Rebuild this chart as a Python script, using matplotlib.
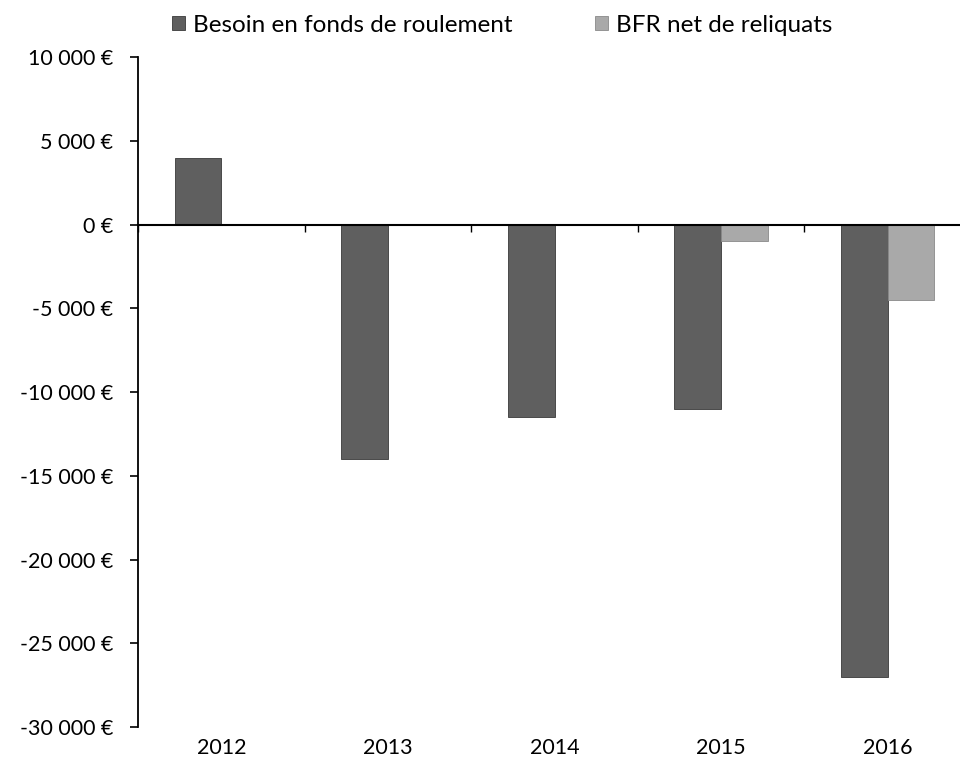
#!/usr/bin/env python3
"""
BFR bar chart (2012-2016), grey Excel-style look
"""

import numpy as np
import matplotlib
matplotlib.use('Agg')
import matplotlib.pyplot as plt
from matplotlib.ticker import FuncFormatter

years = ['2012', '2013', '2014', '2015', '2016']
bfr = [4000, -14000, -11500, -11000, -27000]
bfr_net = [0, 0, 0, -1000, -4500]
series_names = ['Besoin en fonds de roulement', 'BFR net de reliquats']
y_ticks = [10000, 5000, 0, -5000, -10000, -15000, -20000, -25000, -30000]


def euro(v, pos=None):
    s = f"{abs(int(v)):,}".replace(',', ' ')
    sign = '-' if v < 0 else ''
    return f"{sign}{s} €"


def main():
    plt.rcParams['font.family'] = ['Lato', 'DejaVu Sans']

    fig = plt.figure(figsize=(9.6, 7.77), dpi=100)
    fig.patch.set_facecolor('white')
    ax = fig.add_axes([138 / 960, 1 - 727 / 777, 833 / 960, 670 / 777])

    x = np.arange(len(years))
    w = 0.28
    b1 = ax.bar(x - w / 2, bfr, width=w, color='#5f5f5f', edgecolor='#3a3a3a',
                linewidth=0.6, label=series_names[0], zorder=2)
    b2 = ax.bar(x + w / 2, bfr_net, width=w, color='#a9a9a9', edgecolor='#8a8a8a',
                linewidth=0.6, label=series_names[1], zorder=2)

    ax.set_xlim(-0.5, len(years) - 0.5)
    ax.set_ylim(-30000, 10000)
    ax.set_yticks(y_ticks)
    ax.yaxis.set_major_formatter(FuncFormatter(euro))
    ax.tick_params(axis='y', direction='out', length=6, width=1.2, pad=12,
                   labelsize=15.5, colors='black')

    # category axis drawn at zero, boundary ticks
    ax.spines['bottom'].set_position(('data', 0))
    ax.spines['bottom'].set_linewidth(1.5)
    ax.spines['left'].set_linewidth(1.3)
    ax.spines['top'].set_visible(False)
    ax.spines['right'].set_visible(False)
    ax.set_xticks(np.arange(len(years) + 1) - 0.5)
    ax.set_xticklabels([])
    ax.tick_params(axis='x', direction='out', length=5, width=1.0)

    # year labels at the bottom of the plot
    sec = ax.secondary_xaxis('bottom')
    sec.set_xticks(x)
    sec.set_xticklabels(years)
    sec.tick_params(length=0, labelsize=15.5, pad=8)
    sec.spines['bottom'].set_visible(False)

    fig.legend(handles=[b1, b2], labels=series_names, loc='center',
               bbox_to_anchor=(502 / 960, 1 - 25 / 777), ncol=2, frameon=False,
               fontsize=17.5, handlelength=0.55, handleheight=0.55,
               handletextpad=0.3, columnspacing=3.4)

    fig.savefig('out.png', dpi=100, facecolor='white')


if __name__ == "__main__":
    main()
